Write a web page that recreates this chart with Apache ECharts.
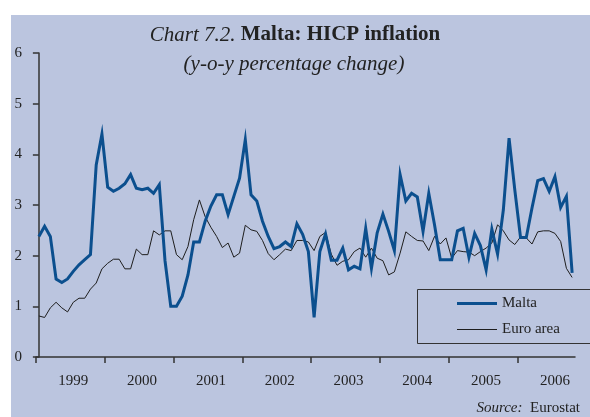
<!DOCTYPE html>
<html>
<head>
<meta charset="utf-8">
<script src="https://cdn.jsdelivr.net/npm/echarts@6/dist/echarts.min.js"></script>
<style>
  html, body { margin: 0; padding: 0; background: #ffffff; }
  #chart { width: 590px; height: 417px; }
</style>
</head>
<body>
<div id="chart"></div>
<script>
// Monthly y-o-y HICP inflation, January 1999 to October 2006
const years = ['1999', '2000', '2001', '2002', '2003', '2004', '2005', '2006'];

const malta = [
  2.38, 2.58, 2.38, 1.54, 1.47, 1.54, 1.69, 1.82, 1.92, 2.02, 3.79, 4.40,
  3.35, 3.27, 3.33, 3.42, 3.60, 3.33, 3.30, 3.33, 3.23, 3.40, 1.90, 1.00,
  1.00, 1.20, 1.62, 2.27, 2.27, 2.68, 2.98, 3.20, 3.20, 2.81, 3.17, 3.53,
  4.29, 3.20, 3.08, 2.68, 2.38, 2.14, 2.18, 2.27, 2.18, 2.63, 2.42, 2.08,
  0.78, 2.08, 2.43, 1.91, 1.91, 2.15, 1.72, 1.79, 1.74, 2.54, 1.75, 2.45,
  2.82, 2.48, 2.10, 3.60, 3.08, 3.23, 3.16, 2.48, 3.23, 2.61, 1.92, 1.92,
  1.92, 2.49, 2.54, 1.97, 2.44, 2.20, 1.72, 2.52, 2.03, 2.90, 4.32, 3.30,
  2.36, 2.36, 2.94, 3.48, 3.52, 3.27, 3.56, 2.95, 3.17, 1.66
];

const euroArea = [
  0.81, 0.78, 0.97, 1.08, 0.97, 0.89, 1.08, 1.16, 1.16, 1.34, 1.46, 1.74,
  1.85, 1.93, 1.93, 1.74, 1.74, 2.13, 2.02, 2.02, 2.49, 2.41, 2.49, 2.49,
  2.02, 1.92, 2.18, 2.71, 3.10, 2.77, 2.56, 2.38, 2.16, 2.25, 1.97, 2.05,
  2.60, 2.51, 2.48, 2.30, 2.04, 1.92, 2.02, 2.13, 2.10, 2.30, 2.30, 2.27,
  2.10, 2.38, 2.46, 2.03, 1.81, 1.89, 1.92, 2.08, 2.15, 1.97, 2.15, 1.95,
  1.90, 1.62, 1.68, 2.05, 2.47, 2.38, 2.30, 2.29, 2.10, 2.38, 2.23, 2.35,
  1.95, 2.10, 2.08, 2.07, 2.00, 2.08, 2.15, 2.25, 2.61, 2.49, 2.31, 2.22,
  2.37, 2.35, 2.23, 2.47, 2.49, 2.49, 2.44, 2.28, 1.75, 1.57
];

const yTicks = [0, 1, 2, 3, 4, 5, 6];

// month index 0 = January 1999
const toPoints = arr => arr.map((v, i) => [i, v]);
const yearStarts = years.map((y, k) => k * 12 - 0.5);   // boundaries between years
const yearMids = years.map((y, k) => k * 12 + 6);        // label positions

const SERIF = '"Liberation Serif", "Times New Roman", serif';
const BG = '#bbc5df';
const INK = '#222222';
const AXIS = '#333333';
const MALTA_BLUE = '#0b4f8e';

const chart = echarts.init(document.getElementById('chart'), null, { renderer: 'canvas' });

chart.setOption({
  backgroundColor: '#ffffff',
  animation: false,
  grid: { left: 36, right: 15, top: 53, bottom: 60, containLabel: false },
  xAxis: {
    type: 'value',
    min: -0.5,
    max: 93.5,
    splitLine: { show: false },
    axisLine: { show: true, lineStyle: { color: AXIS, width: 1.5 } },
    axisTick: {
      show: true, inside: false, length: 6,
      customValues: yearStarts,
      lineStyle: { color: AXIS, width: 1.5 }
    },
    axisLabel: {
      customValues: yearMids,
      formatter: v => years[Math.round((v - 6) / 12)],
      margin: 17,
      fontFamily: SERIF,
      fontSize: 15,
      color: INK
    }
  },
  yAxis: {
    type: 'value',
    min: yTicks[0],
    max: yTicks[yTicks.length - 1],
    interval: 1,
    splitLine: { show: false },
    axisLine: { show: true, lineStyle: { color: AXIS, width: 1.5 } },
    axisTick: { show: true, inside: false, length: 6, lineStyle: { color: AXIS, width: 1.5 } },
    axisLabel: { margin: 14, fontFamily: SERIF, fontSize: 15, color: INK }
  },
  legend: {
    orient: 'vertical',
    left: 457,
    top: 296,
    padding: 0,
    itemWidth: 40,
    itemHeight: 14,
    itemGap: 11,
    textStyle: { fontFamily: SERIF, fontSize: 15, color: INK },
    data: [
      { name: 'Malta', icon: 'path://M0,6 L40,6 L40,9 L0,9 Z', itemStyle: { color: MALTA_BLUE } },
      { name: 'Euro area', icon: 'path://M0,7 L40,7 L40,8 L0,8 Z', itemStyle: { color: '#1e1e1e' } }
    ]
  },
  series: [
    {
      name: 'Euro area',
      type: 'line',
      data: toPoints(euroArea),
      symbol: 'none',
      lineStyle: { color: '#1e1e1e', width: 1 },
      itemStyle: { color: '#1e1e1e' },
      z: 3
    },
    {
      name: 'Malta',
      type: 'line',
      data: toPoints(malta),
      symbol: 'none',
      lineStyle: { color: MALTA_BLUE, width: 3, join: 'miter' },
      itemStyle: { color: MALTA_BLUE },
      z: 4
    }
  ],
  graphic: [
    {
      type: 'rect', z: -10, silent: true,
      shape: { x: 11, y: 15, width: 590, height: 410 },
      style: { fill: BG }
    },
    {
      type: 'rect', z: 10, silent: true,
      shape: { x: 417.5, y: 289.5, width: 190, height: 54 },
      style: { fill: 'none', stroke: AXIS, lineWidth: 1 }
    },
    {
      type: 'text', z: 10, silent: true,
      x: 295, y: 35,
      style: {
        text: '{i|Chart 7.2.} {b|Malta: HICP inflation}',
        align: 'center', verticalAlign: 'middle',
        rich: {
          i: { fontFamily: SERIF, fontStyle: 'italic', fontSize: 21, fill: INK },
          b: { fontFamily: SERIF, fontWeight: 'bold', fontSize: 21, fill: INK }
        },
        fontFamily: SERIF, fontSize: 21
      }
    },
    {
      type: 'text', z: 10, silent: true,
      x: 294, y: 64,
      style: {
        text: '(y-o-y percentage change)',
        align: 'center', verticalAlign: 'middle',
        fontFamily: SERIF, fontStyle: 'italic', fontSize: 21, fill: INK
      }
    },
    {
      type: 'text', z: 10, silent: true,
      x: 580, y: 408,
      style: {
        text: '{i|Source:}  {r|Eurostat}',
        align: 'right', verticalAlign: 'middle',
        rich: {
          i: { fontFamily: SERIF, fontStyle: 'italic', fontSize: 15, fill: INK },
          r: { fontFamily: SERIF, fontSize: 15, fill: INK }
        },
        fontFamily: SERIF, fontSize: 15
      }
    }
  ]
});
</script>
</body>
</html>
